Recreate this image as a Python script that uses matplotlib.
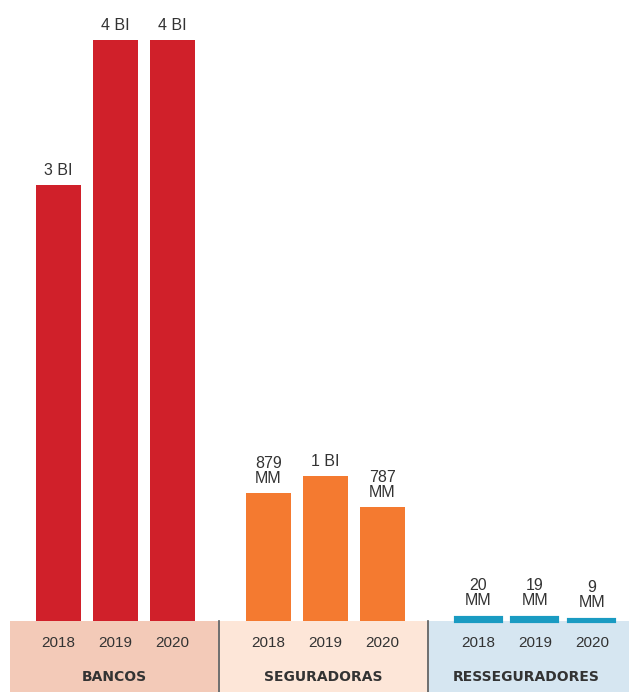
import matplotlib.pyplot as plt
import matplotlib.patches as mpatches

plt.rcParams['font.family'] = ['Liberation Sans', 'DejaVu Sans']

groups = ['BANCOS', 'SEGURADORAS', 'RESSEGURADORES']
years = ['2018', '2019', '2020']
# values in millions
bancos = [3000, 4000, 4000]
seguradoras = [879, 1000, 787]
resseguradores = [20, 19, 9]
labels = [['3 BI', '4 BI', '4 BI'],
          ['879\nMM', '1 BI', '787\nMM'],
          ['20\nMM', '19\nMM', '9\nMM']]

bar_colors = ['#d0202a', '#f47a30', '#1a9bc2']
band_colors = ['#f3cab8', '#fde6d8', '#d6e6f1']
txt = '#333333'

fig = plt.figure(figsize=(6.29, 6.92), dpi=100)
ax = fig.add_axes([0, 0, 1, 1])
ax.set_xlim(-1.03, 10.01)
ax.set_ylim(-489, 4275)
ax.axis('off')

step = 3.68
width = 0.79
series = [bancos, seguradoras, resseguradores]

for g, vals in enumerate(series):
    xs = [g * step + i for i in range(3)]
    # the tiny reinsurance bars get an outline so they stay visible
    lw = 3.0 if g == 2 else 0
    ax.bar(xs, vals, width=width, color=bar_colors[g], edgecolor=bar_colors[g],
           linewidth=lw, zorder=2)
    for i, (x, v, lab) in enumerate(zip(xs, vals, labels[g])):
        ax.annotate(lab, (x, v), xytext=(0, 7 if g == 2 else 5), textcoords='offset points',
                    ha='center', va='bottom', fontsize=11.5, color=txt, linespacing=1.0)
        ax.text(x, -150, years[i], ha='center', va='center', fontsize=11, color=txt)

    # coloured band under each group
    if g == 0:
        x0 = -1.03 + 10 / 57
    else:
        x0 = -1.03 + (220 + (g - 1) * 209) / 57
    x1 = -1.03 + (218 + g * 209) / 57 if g < 2 else 10.01
    ax.add_patch(mpatches.Rectangle((x0, -489), x1 - x0, 489, color=band_colors[g], zorder=1, lw=0))
    xc = (x0 + x1) / 2 if g < 2 else (x0 + x1) / 2 - 0.05
    ax.text(xc, -385, groups[g], ha='center', va='center', fontsize=10,
            fontweight='bold', color=txt, family='DejaVu Sans')

for px in [219, 428]:
    xd = -1.03 + px / 57
    ax.plot([xd, xd], [-489, 0], color='#555555', lw=1.2, zorder=3)

fig.savefig('out.png', dpi=100)
